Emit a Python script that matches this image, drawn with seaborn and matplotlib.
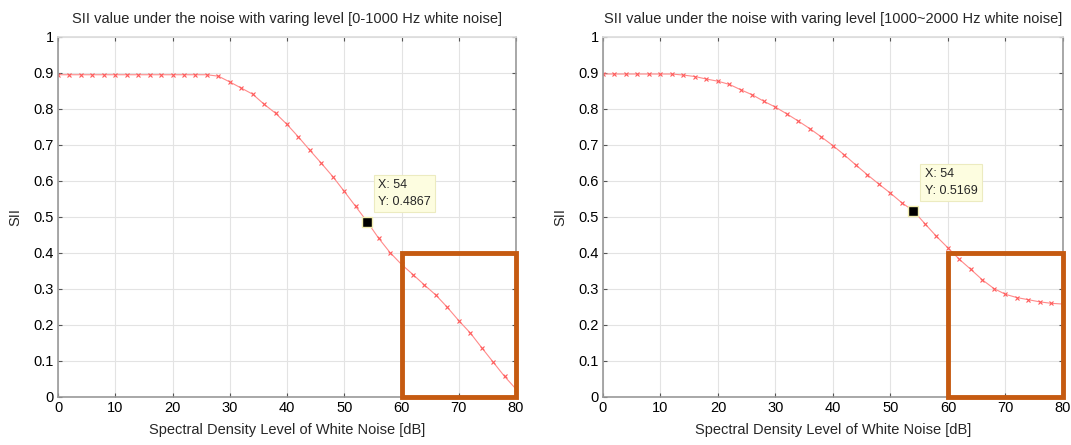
import numpy as np
import pandas as pd
import matplotlib
matplotlib.use("Agg")
import matplotlib.pyplot as plt
import seaborn as sns
from matplotlib.patches import Rectangle

# ==========================================
# dados
# ==========================================
nivel_db = list(range(0, 82, 2))

sii_0_1000 = [0.895] * 14 + [
    0.891, 0.875, 0.858, 0.841, 0.813, 0.788, 0.757, 0.722, 0.685, 0.649,
    0.612, 0.571, 0.529, 0.4867, 0.441, 0.401, 0.368, 0.340, 0.311, 0.283,
    0.249, 0.212, 0.178, 0.137, 0.097, 0.057, 0.022]

sii_1000_2000 = [0.897] * 7 + [
    0.894, 0.890, 0.883, 0.877, 0.868, 0.853, 0.839, 0.821, 0.805, 0.786,
    0.766, 0.745, 0.722, 0.698, 0.672, 0.644, 0.617, 0.591, 0.566, 0.539,
    0.5169, 0.481, 0.446, 0.414, 0.382, 0.354, 0.325, 0.301, 0.285, 0.276,
    0.270, 0.264, 0.260, 0.258]

titulos = ["SII value under the noise with varing level [0-1000 Hz white noise]",
           "SII value under the noise with varing level [1000~2000 Hz white noise]"]
ponto_x = 54
ponto_y = [0.4867, 0.5169]
caixa = (60, 0, 20, 0.4)  # região destacada

df = pd.DataFrame({
    "dB": nivel_db * 2,
    "SII": sii_0_1000 + sii_1000_2000,
    "banda": ["0-1000"] * len(nivel_db) + ["1000-2000"] * len(nivel_db),
})

sns.set_theme(style="whitegrid")
plt.rcParams["font.family"] = ["Liberation Sans", "DejaVu Sans"]

fig = plt.figure(figsize=(10.71, 4.45), dpi=100)
ax1 = fig.add_axes([0.0542, 0.108, 0.4276, 0.809])
ax2 = fig.add_axes([0.563, 0.108, 0.4295, 0.809])

for ax, banda, titulo, py in zip([ax1, ax2], ["0-1000", "1000-2000"], titulos, ponto_y):
    ax.set_facecolor("white")
    sns.lineplot(data=df[df["banda"] == banda], x="dB", y="SII", ax=ax,
                 color="#ff8a8a", linewidth=0.8, marker="x", markersize=3.5,
                 markeredgewidth=0.8, markeredgecolor="#ff5c5c")
    ax.set_xlim(0, 80)
    ax.set_ylim(0, 1)
    ax.set_xticks(range(0, 81, 10))
    ax.set_yticks(np.arange(0, 1.01, 0.1))
    ax.set_yticklabels(["0", "0.1", "0.2", "0.3", "0.4", "0.5", "0.6", "0.7", "0.8", "0.9", "1"])
    ax.grid(True, color="#e3e3e3", linewidth=0.8)
    ax.tick_params(axis="both", which="both", direction="in", length=3, width=0.8,
                   colors="#555555", labelcolor="black", labelsize=10.5, pad=3,
                   top=True, right=True, bottom=True, left=True)
    for lado in ["left", "bottom", "right"]:
        ax.spines[lado].set_color("#999999")
        ax.spines[lado].set_linewidth(1.2)
    ax.spines["top"].set_color("#dddddd")
    ax.set_title(titulo, fontsize=10.5, pad=10)
    ax.set_xlabel("Spectral Density Level of White Noise [dB]", fontsize=10.5, labelpad=6)
    ax.set_ylabel("SII", fontsize=10.5, labelpad=8)

    # marcador do data tip
    ax.plot([ponto_x], [py], marker="s", color="black", markersize=7,
            markeredgecolor="#f2eeb0", markeredgewidth=1, zorder=5)
    ax.annotate(f"X: {ponto_x}\nY: {py:.4f}", xy=(ponto_x, py), xytext=(8, 10),
                textcoords="offset points", fontsize=9, va="bottom", ha="left",
                linespacing=1.5,
                bbox=dict(boxstyle="square,pad=0.35", fc="#fdfde0", ec="#ecebc0", lw=0.8))

    # retângulo laranja
    ax.add_patch(Rectangle((caixa[0], caixa[1]), caixa[2], caixa[3], fill=False,
                           edgecolor="#c55a11", linewidth=3.5, clip_on=False, zorder=6))

fig.savefig("out.png", dpi=100)
